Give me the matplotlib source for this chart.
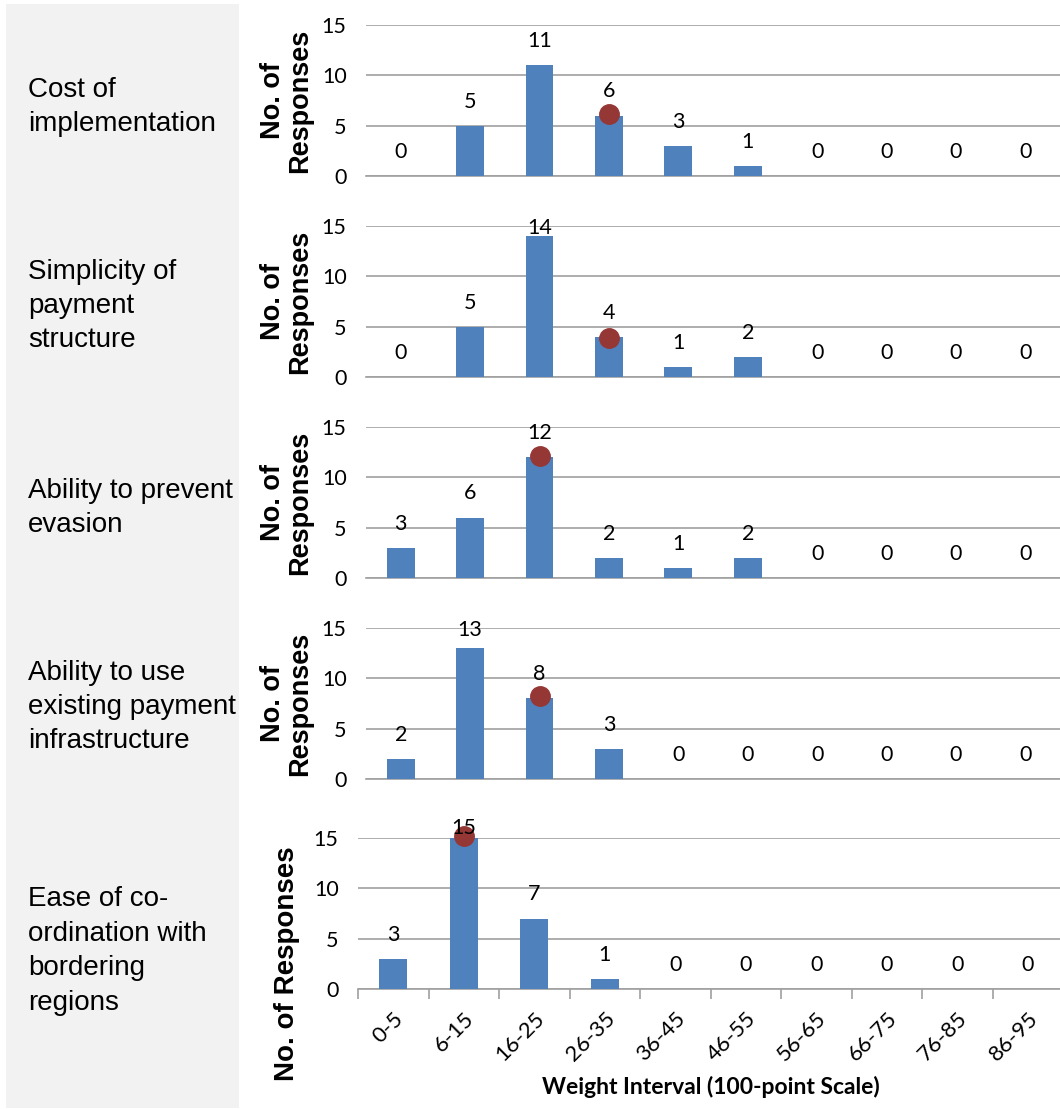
#!/usr/bin/env python3
"""Weight-interval response histograms for five criteria."""

import matplotlib

matplotlib.use('Agg')
import matplotlib.pyplot as plt
from matplotlib.patches import Rectangle

intervals = ['0-5', '6-15', '16-25', '26-35', '36-45',
             '46-55', '56-65', '66-75', '76-85', '86-95']

criteria = [
    'Cost of\nimplementation',
    'Simplicity of\npayment\nstructure',
    'Ability to prevent\nevasion',
    'Ability to use\nexisting payment\ninfrastructure',
    'Ease of co-\nordination with\nbordering\nregions',
]

cost_impl = [0, 5, 11, 6, 3, 1, 0, 0, 0, 0]
simplicity = [0, 5, 14, 4, 1, 2, 0, 0, 0, 0]
prevent_evasion = [3, 6, 12, 2, 1, 2, 0, 0, 0, 0]
existing_infra = [2, 13, 8, 3, 0, 0, 0, 0, 0, 0]
coordination = [3, 15, 7, 1, 0, 0, 0, 0, 0, 0]
counts = [cost_impl, simplicity, prevent_evasion, existing_infra, coordination]

# average-weight marker: interval index and height
mean_idx = [3, 3, 2, 2, 1]
mean_val = [6.2, 3.9, 12.1, 8.2, 15.2]

BAR = '#4f81bd'
DOT = '#953735'
GRID = '#a0a0a0'

W, H = 1060, 1109
fig = plt.figure(figsize=(W / 100, H / 100), dpi=100)

# grey label column
fig.patches.append(Rectangle((6 / W, 1 - 1108 / H), 233 / W, 1104 / H,
                             transform=fig.transFigure, facecolor='#f2f2f2',
                             edgecolor='none', zorder=0))

# (top, bottom) pixel rows of each panel
rows = [(25, 176), (226, 377), (427, 578), (628, 779), (838, 989)]
label_centres = [107, 306, 508, 707, 951]
caps = [14.85, 14.85, 14.85, 14.85, 16.0]

for k, (top, bot) in enumerate(rows):
    last = k == len(rows) - 1
    left = 358 if last else 366
    width = 705 if last else 694
    ax = fig.add_axes([left / W, 1 - bot / H, width / W, (bot - top) / H])
    x = range(len(intervals))
    ax.bar(x, counts[k], width=0.4, color=BAR, zorder=3)
    ax.plot(mean_idx[k], mean_val[k], 'o', color=DOT, markersize=14,
            zorder=5, clip_on=False)
    for i, v in enumerate(counts[k]):
        ax.text(i, min(v + 2.4, caps[k]), str(v), ha='center', va='center',
                fontsize=15.5, family='Lato', zorder=6)

    ax.set_xlim(-0.5, len(intervals) - 0.5)
    ax.set_ylim(0, 15)
    ax.set_yticks([0, 5, 10, 15])
    ax.yaxis.grid(True, color=GRID, linewidth=1.2, zorder=0)
    for s in ['top', 'right', 'left']:
        ax.spines[s].set_visible(False)
    ax.spines['bottom'].set_color(GRID)
    ax.spines['bottom'].set_linewidth(1.2)
    ax.tick_params(axis='y', length=0, pad=14, labelsize=15.5)
    for t in ax.get_yticklabels():
        t.set_family('Lato')

    if last:
        ax.set_xticks([i - 0.5 for i in range(len(intervals) + 1)])
        ax.set_xticklabels([])
        ax.set_xticks(list(x), minor=True)
        ax.set_xticklabels(intervals, minor=True, rotation=45, ha='right',
                           rotation_mode='anchor', fontsize=16, family='Lato')
        ax.tick_params(axis='x', which='major', length=7, color=GRID, width=1.2)
        ax.tick_params(axis='x', which='minor', length=0, pad=14)
        ax.set_xlabel('Weight Interval (100-point Scale)', fontsize=16.5,
                      family='Lato', fontweight='bold', labelpad=8)
        fig.text(287 / W, 1 - 964 / H, 'No. of Responses', rotation=90,
                 ha='center', va='center', fontsize=20,
                 family='Liberation Sans', fontweight='bold')
    else:
        ax.set_xticks([])
        fig.text(287 / W, 1 - (top + bot) / 2 / H, 'No. of\nResponses',
                 rotation=90, ha='center', va='center', fontsize=19.5,
                 family='Liberation Sans', fontweight='bold', linespacing=1.05)

    fig.text(28 / W, 1 - label_centres[k] / H, criteria[k], ha='left',
             va='center', fontsize=20, family='Liberation Sans',
             linespacing=1.42)

fig.savefig('out.png', dpi=100)
